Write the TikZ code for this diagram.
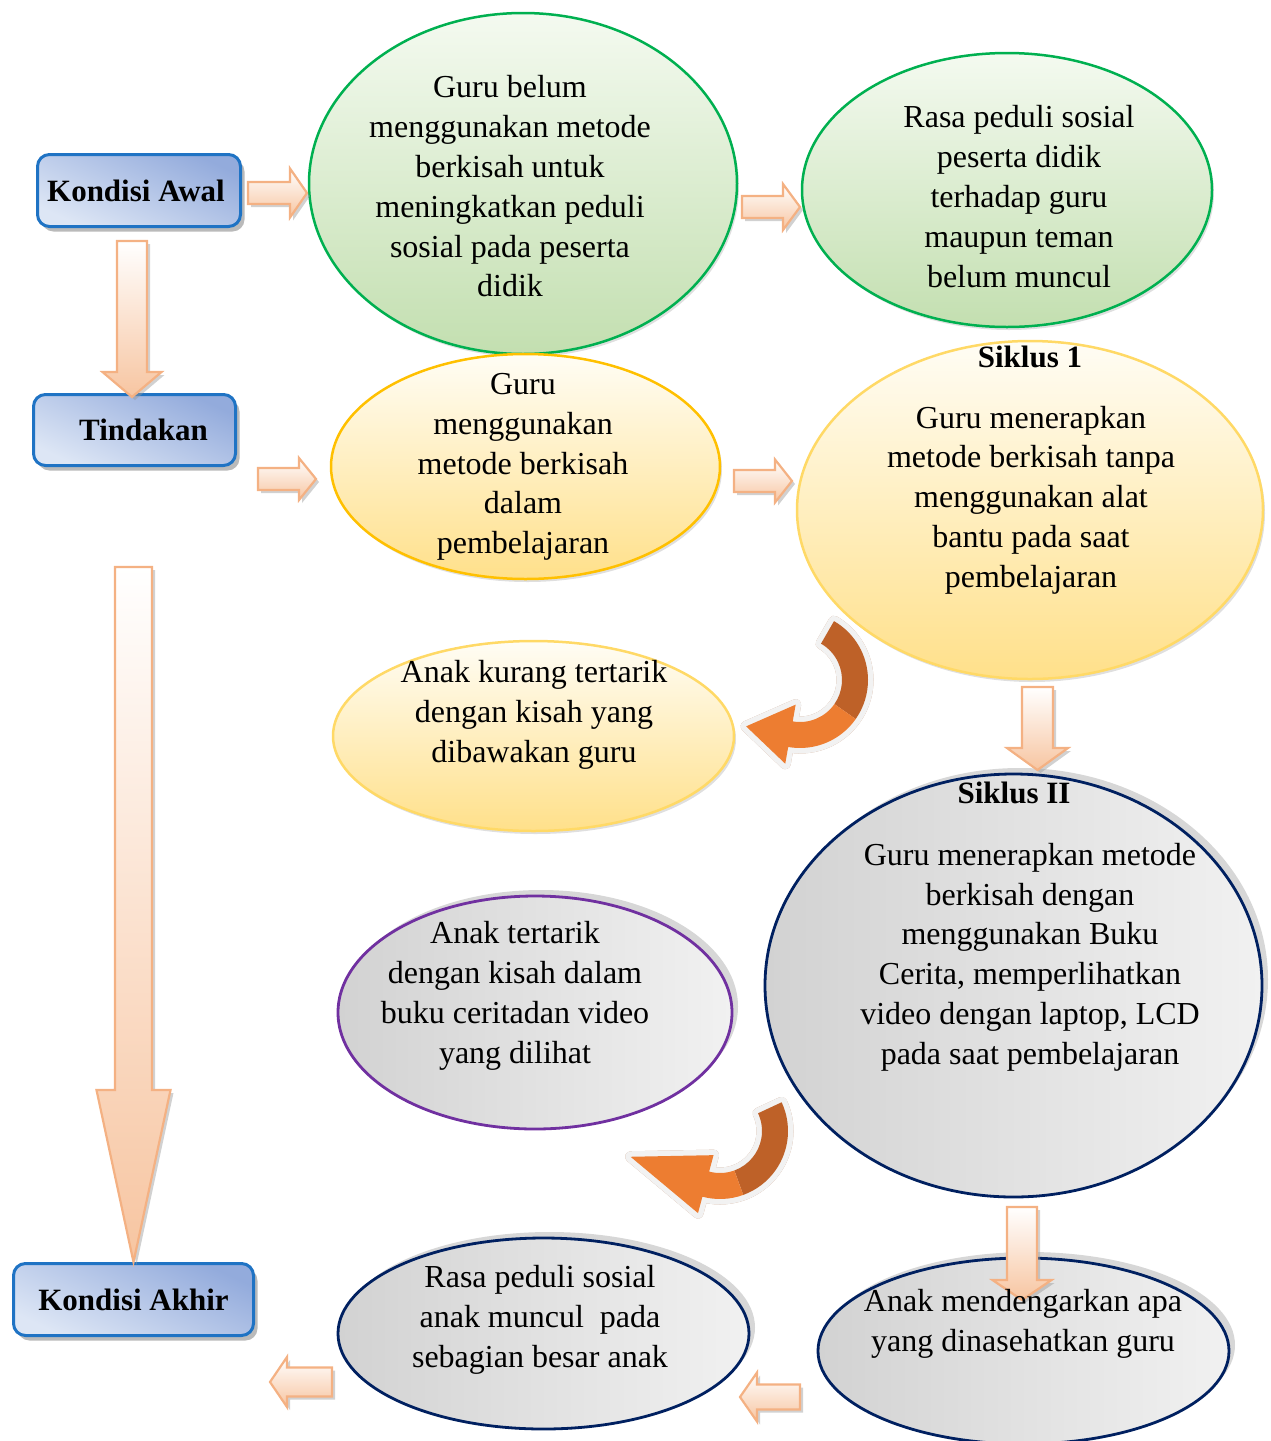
\documentclass[tikz,border=0pt]{standalone}
\usepackage{fontspec}
\setmainfont{Liberation Serif}
\usetikzlibrary{shapes.geometric,shadows,calc}

\definecolor{boxline}{HTML}{1F73C4}
\definecolor{boxdark}{HTML}{93ABDC}
\definecolor{boxlight}{HTML}{DDE6F5}
\definecolor{arrowline}{HTML}{F4B183}
\definecolor{arrowfill}{HTML}{F7C5A1}
\definecolor{greenline}{HTML}{00B050}
\definecolor{greentop}{HTML}{F4FAF0}
\definecolor{greenbot}{HTML}{C3DFB0}
\definecolor{goldline}{HTML}{FFC000}
\definecolor{paleline}{HTML}{FFD966}
\definecolor{yellowtop}{HTML}{FFFDF5}
\definecolor{yellowbot}{HTML}{FFE08A}
\definecolor{navyline}{HTML}{002060}
\definecolor{purpleline}{HTML}{7030A0}
\definecolor{greydark}{HTML}{D2D2D2}
\definecolor{greylight}{HTML}{F1F1F1}
\definecolor{bandbrown}{HTML}{BE6128}
\definecolor{bandorange}{HTML}{ED7D31}
\definecolor{bandshadow}{HTML}{C9A189}

% block arrows: tail, tip, centre, half shaft, half head, head length
\newcommand{\harrow}[6]{%
  \path[blockarrow] (#1,{#3-#4}) -- ({#2-(#6)},{#3-#4}) -- ({#2-(#6)},{#3-#5}) -- (#2,#3)
    -- ({#2-(#6)},{#3+#5}) -- ({#2-(#6)},{#3+#4}) -- (#1,{#3+#4}) -- cycle;}
\newcommand{\varrow}[6]{%
  \path[blockarrow] ({#1-#4},#2) -- ({#1-#4},{#3-(#6)}) -- ({#1-#5},{#3-(#6)}) -- (#1,#3)
    -- ({#1+#5},{#3-(#6)}) -- ({#1+#4},{#3-(#6)}) -- ({#1+#4},#2) -- cycle;}

\begin{document}
\begin{tikzpicture}[x=1pt, y=-1pt,
        boxnode/.style={rectangle, rounded corners=12pt, draw=boxline, line width=3pt,
            top color=boxdark, bottom color=boxlight, shading angle=-25,
            font=\fontsize{31}{36}\selectfont\bfseries, inner sep=0pt,
            drop shadow={shadow xshift=4pt, shadow yshift=-5pt, fill=black!45, opacity=.6}},
        greenell/.style={ellipse, draw=greenline, line width=2.5pt, top color=greentop, bottom color=greenbot, inner sep=0pt,
            drop shadow={shadow xshift=2pt, shadow yshift=-3pt, opacity=.25}},
        yellowell/.style={ellipse, draw=#1, line width=2.5pt, top color=yellowtop, bottom color=yellowbot, inner sep=0pt,
            drop shadow={shadow xshift=2pt, shadow yshift=-3pt, opacity=.25}},
        greyell/.style={ellipse, draw=#1, line width=2.8pt, left color=greydark, right color=greylight, inner sep=0pt,
            drop shadow={shadow xshift=6pt, shadow yshift=6pt, fill=black!35, opacity=.45}},
        blockarrow/.style={draw=arrowline, line width=2.2pt, top color=white, bottom color=arrowfill,
            drop shadow={shadow xshift=3pt, shadow yshift=-3pt, fill=black!40, opacity=.45}},
        txt/.style={align=center, inner sep=0pt, font=\fontsize{32}{39.8}\selectfont},
        siklus/.style={inner sep=0pt, font=\fontsize{31}{36}\selectfont\bfseries},
    ]
        \useasboundingbox (0,0) rectangle (1271,1441);

        %Boxes
        \node[boxnode, minimum width=203pt, minimum height=72pt] (awal) at (139,190.5) {Kondisi Awal\hspace*{6pt}};
        \node[boxnode, minimum width=202pt, minimum height=71pt] (tindakan) at (134.5,430) {\hspace*{18pt}Tindakan};
        \node[boxnode, minimum width=240pt, minimum height=72pt] (akhir) at (133.5,1299.5) {Kondisi Akhir};

        %Ellipses
        \node[greenell, minimum width=428pt, minimum height=341pt] (belum) at (523,183.5) {};
        \node[greenell, minimum width=410pt, minimum height=274pt] (peduli) at (1007,190) {};
        \node[yellowell=goldline, minimum width=389pt, minimum height=225pt] (tindak) at (525.5,466.5) {};
        \node[yellowell=paleline, minimum width=466pt, minimum height=338pt] (siklusA) at (1030,510) {};
        \node[yellowell=paleline, minimum width=401pt, minimum height=190pt] (kurang) at (533.5,736) {};
        \node[greyell=navyline, minimum width=497pt, minimum height=423pt] (siklusB) at (1013.5,985.5) {};
        \node[greyell=purpleline, minimum width=394pt, minimum height=233pt] (tertarik) at (535,1012.5) {};
        \node[greyell=navyline, minimum width=411pt, minimum height=191pt] (muncul) at (543.5,1333.5) {};
        \node[greyell=navyline, minimum width=411pt, minimum height=186pt] (dengar) at (1023.5,1351) {};

        %Block arrows
        \harrow{248}{307}{193}{11}{24.5}{17}
        \harrow{742}{800}{207}{11}{23}{17}
        \harrow{258}{316}{479}{11}{21}{17}
        \harrow{734}{792}{481}{11}{21.5}{17}
        \harrow{800}{740}{1397}{12.5}{24.5}{-17}
        \harrow{332}{270}{1382}{14.5}{25}{-17}
        \varrow{132}{241}{397}{15}{29.5}{25}
        \varrow{133.5}{567}{1262}{18.5}{37}{172}
        \varrow{1037.5}{687}{770}{15.5}{30.5}{22}
        \varrow{1022}{1207}{1300}{15}{29.5}{20}

        %Curved arrows
        \coordinate (cA) at (800,680);
        \coordinate (tipA) at ($(cA)+(100:55)+(190:45)$);
        \coordinate (cB) at (720,1131);
        \coordinate (tipB) at ($(cB)+(105:55)+(200:80)$);
        \def\hookA{($(cA)+(-60:68)$) arc[start angle=-60,end angle=100,radius=68] -- ($(cA)+(100:85)$) -- (tipA)
            -- ($(cA)+(100:25)$) -- ($(cA)+(100:42)$) arc[start angle=100,end angle=-60,radius=42] -- cycle}
        \def\hookB{($(cB)+(-25:68)$) arc[start angle=-25,end angle=105,radius=68] -- ($(cB)+(105:85)$) -- (tipB)
            -- ($(cB)+(105:25)$) -- ($(cB)+(105:42)$) arc[start angle=105,end angle=-25,radius=42] -- cycle}
        \filldraw[bandshadow, line width=11pt, line join=round, shift={(3,6)}] \hookA;
        \filldraw[white!95!black, line width=11pt, line join=round] \hookA;
        \fill[bandbrown] ($(cA)+(-60:68)$) arc[start angle=-60,end angle=35,radius=68]
            -- ($(cA)+(35:42)$) arc[start angle=35,end angle=-60,radius=42] -- cycle;
        \fill[bandorange] ($(cA)+(35:68)$) arc[start angle=35,end angle=100,radius=68] -- ($(cA)+(100:85)$) -- (tipA)
            -- ($(cA)+(100:25)$) -- ($(cA)+(100:42)$) arc[start angle=100,end angle=35,radius=42] -- cycle;
        \filldraw[bandshadow, line width=11pt, line join=round, shift={(-3,6)}] \hookB;
        \filldraw[white!95!black, line width=11pt, line join=round] \hookB;
        \fill[bandbrown] ($(cB)+(-25:68)$) arc[start angle=-25,end angle=70,radius=68]
            -- ($(cB)+(70:42)$) arc[start angle=70,end angle=-25,radius=42] -- cycle;
        \fill[bandorange] ($(cB)+(70:68)$) arc[start angle=70,end angle=105,radius=68] -- ($(cB)+(105:85)$) -- (tipB)
            -- ($(cB)+(105:25)$) -- ($(cB)+(105:42)$) arc[start angle=105,end angle=70,radius=42] -- cycle;

        %Texts
        \node[txt] (belumtxt) at (510,186.5) {Guru belum\\menggunakan metode\\berkisah untuk\\meningkatkan peduli\\sosial pada peserta\\didik};
        \node[txt] (pedulitxt) at (1019,196.5) {Rasa peduli sosial\\peserta didik\\terhadap guru\\maupun teman\\belum muncul};
        \node[txt] (tindaktxt) at (523,467) {Guru\\menggunakan\\metode berkisah\\dalam\\pembelajaran};
        \node[siklus] (siklusAlbl) at (1030,357) {Siklus 1};
        \node[txt] (siklusAtxt) at (1031,500) {Guru menerapkan\\metode berkisah tanpa\\menggunakan alat\\bantu pada saat\\pembelajaran};
        \node[txt] (kurangtxt) at (534,715) {Anak kurang tertarik\\dengan kisah yang\\dibawakan guru};
        \node[siklus] (siklusBlbl) at (1014,793) {Siklus II};
        \node[txt] (siklusBtxt) at (1030,957) {Guru menerapkan metode\\berkisah dengan\\menggunakan Buku\\Cerita, memperlihatkan\\video dengan laptop, LCD\\pada saat pembelajaran};
        \node[txt] (tertariktxt) at (515,996) {Anak tertarik\\dengan kisah dalam\\buku ceritadan video\\yang dilihat};
        \node[txt] (muncultxt) at (540,1320) {Rasa peduli sosial\\anak muncul\ \ pada\\sebagian besar anak};
        \node[txt] (dengartxt) at (1023,1324) {Anak mendengarkan apa\\yang dinasehatkan guru};
    \end{tikzpicture}
\end{document}
